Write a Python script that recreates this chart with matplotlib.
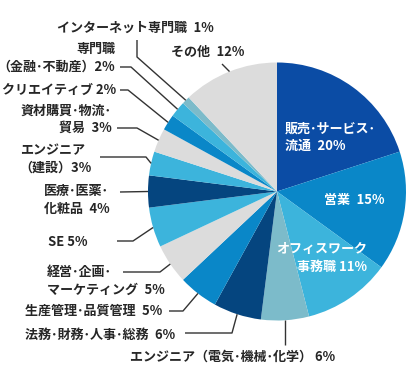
import matplotlib
matplotlib.use('Agg')
import matplotlib.pyplot as plt
import numpy as np

plt.rcParams['font.family'] = ['Noto Sans CJK JP', 'DejaVu Sans']

# ---- data ----
categories = ['販売･サービス･\n流通', '営業', 'オフィスワーク\n事務職',
              'エンジニア（電気･機械･化学）', '法務･財務･人事･総務',
              '生産管理･品質管理', '経営･企画･\nマーケティング', 'SE',
              '医療･医薬･\n化粧品', 'エンジニア\n（建設）', '資材購買･物流･\n貿易',
              'クリエイティブ', '専門職\n（金融･不動産）', 'インターネット専門職', 'その他']
values = [20, 15, 11, 6, 6, 5, 5, 5, 4, 3, 3, 2, 2, 1, 12]

DARK = '#0b4ca5'
BLUE = '#0a87c8'
CYAN = '#3cb4dc'
TEAL = '#7cbbca'
NAVY = '#05457f'
GRAY = '#dcdcdc'
colors = [DARK, BLUE, CYAN, TEAL, NAVY, BLUE, GRAY, CYAN, NAVY, CYAN, GRAY, BLUE, CYAN, TEAL, GRAY]

W, H = 410, 369
fig = plt.figure(figsize=(W / 100, H / 100), dpi=100)
ax = fig.add_axes([0, 0, 1, 1])


def P(x, y):
    return x, H - y


CX, CY, R = 277, 191.5, 129
wedges, _ = ax.pie(values, colors=colors, startangle=90, counterclock=False,
                   center=P(CX, CY), radius=R, frame=True,
                   wedgeprops=dict(linewidth=0))
ax.set_xlim(0, W)
ax.set_ylim(0, H)
ax.axis('off')

# gap between name and percentage (style only)
EN = '\u2002'
seps = {2: ' ', 3: ' ', 7: ' ', 9: '', 11: ' ', 12: ''}


def label_text(i):
    return f'{categories[i]}{seps.get(i, EN)}{values[i]}%'


FS = 9.4
TXT = '#262626'
LINE = '#333333'

# inside labels: index -> (x, y, ha)
inside = {0: (285, 137, 'left'), 1: (354, 200, 'center'), 2: (367, 258, 'right')}
for i, (x, y, ha) in inside.items():
    ax.text(*P(x, y), label_text(i), ha=ha, va='center',
            multialignment=ha, color='white', fontsize=FS, fontweight='bold', linespacing=1.3)

# outside labels: index -> (text x, text y, ha, line end point, elbow point or None)
outside = {
    3: (233, 357, 'center', None, None),
    4: (175, 335, 'right', (185, 333), (232, 333)),
    5: (162, 311, 'right', (169, 311), (183, 311)),
    6: (47, 281, 'left', (123, 272), (160, 272)),
    7: (88, 242, 'right', (117, 241), (133, 241)),
    8: (110, 200, 'right', (120, 192), None),
    9: (92, 159, 'right', (100, 157), (146, 157)),
    10: (112, 119, 'right', (117, 128), (137, 128)),
    11: (116, 90, 'right', (120, 90), (128, 90)),
    12: (115, 58, 'right', (120, 67), (131, 67)),
    13: (135, 28, 'center', (137, 40), (137, 57)),
    14: (208, 52, 'center', (222, 64), None),
}

for i, (tx, ty, ha, end, elbow) in outside.items():
    w = wedges[i]
    mid = np.deg2rad((w.theta1 + w.theta2) / 2)
    ex, ey = CX + R * np.cos(mid), CY - R * np.sin(mid)
    if end is None:
        end = (ex, 345)
    pts = [(ex, ey)] + ([elbow] if elbow else []) + [end]
    xs = [p[0] for p in pts]
    ys = [H - p[1] for p in pts]
    ax.plot(xs, ys, color=LINE, lw=1.0, solid_capstyle='butt', zorder=3)
    ma = 'left' if i in (6, 8, 9) else ha
    ax.text(*P(tx, ty), label_text(i), ha=ha, va='center',
            multialignment=ma, color=TXT, fontsize=FS, fontweight='bold', linespacing=1.3)

fig.savefig('out.png', dpi=100)
